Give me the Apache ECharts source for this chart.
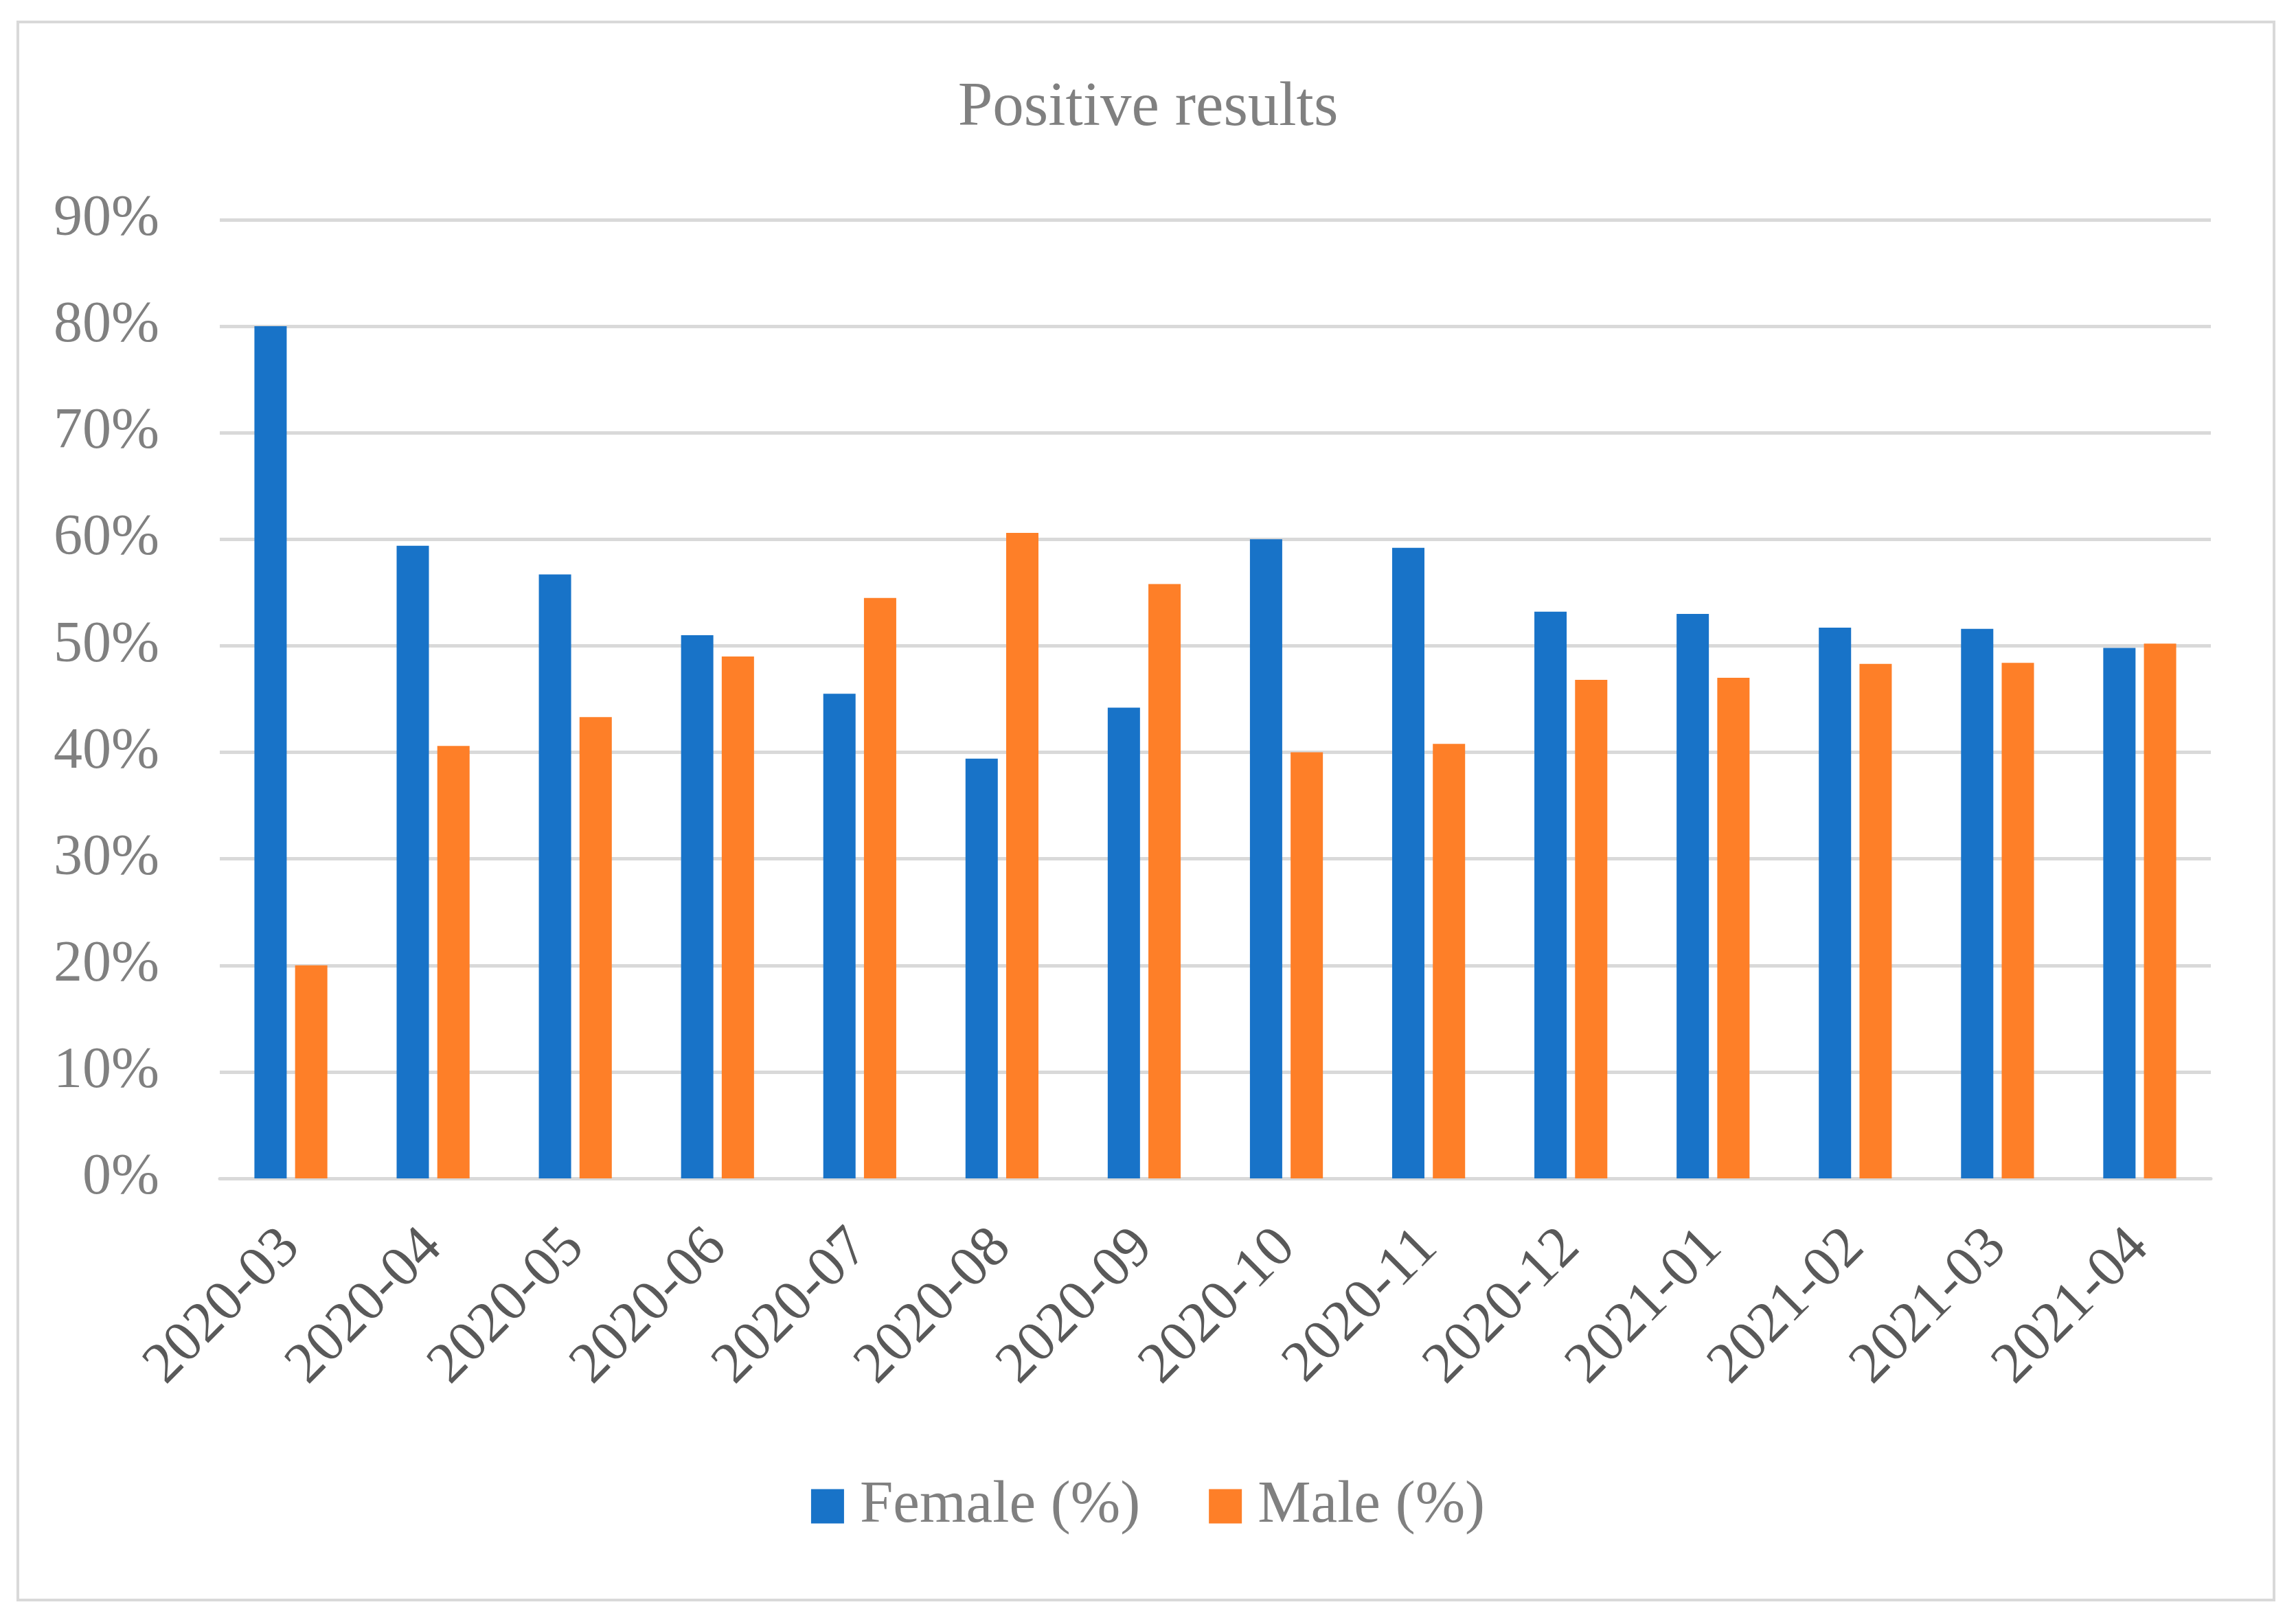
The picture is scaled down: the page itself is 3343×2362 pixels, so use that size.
<!DOCTYPE html>
<html>
<head>
<meta charset="utf-8">
<script src="https://cdn.jsdelivr.net/npm/echarts@6/dist/echarts.min.js"></script>
<style>
html,body{margin:0;padding:0;background:#fff;}
#chart{width:3343px;height:2362px;}
</style>
</head>
<body>
<div id="chart"></div>
<script>
const categories = ['2020-03','2020-04','2020-05','2020-06','2020-07','2020-08','2020-09','2020-10','2020-11','2020-12','2021-01','2021-02','2021-03','2021-04'];
const femaleValues = [80.0, 59.4, 56.7, 51.0, 45.5, 39.4, 44.2, 60.0, 59.2, 53.2, 53.0, 51.7, 51.6, 49.8];
const maleValues = [20.0, 40.6, 43.3, 49.0, 54.5, 60.6, 55.8, 40.0, 40.8, 46.8, 47.0, 48.3, 48.4, 50.2];
const yTicks = [0, 10, 20, 30, 40, 50, 60, 70, 80, 90];
const seriesNames = ['Female (%)', 'Male (%)'];
const titleText = 'Positive results';

const FONT = '"Liberation Serif", serif';
const chart = echarts.init(document.getElementById('chart'), null, {renderer: 'canvas'});
chart.setOption({
  backgroundColor: '#ffffff',
  animation: false,
  title: {
    text: titleText,
    left: 'center',
    top: 108,
    textStyle: {fontFamily: FONT, fontSize: 91, fontWeight: 'normal', color: '#808080'}
  },
  graphic: [{
    type: 'rect',
    shape: {x: 26, y: 32, width: 3285, height: 2298},
    style: {fill: 'none', stroke: '#d9d9d9', lineWidth: 4},
    silent: true
  }],
  legend: {
    data: seriesNames,
    left: 'center',
    top: 2145,
    icon: 'rect',
    itemWidth: 48,
    itemHeight: 50,
    itemGap: 100,
    textStyle: {fontFamily: FONT, fontSize: 87, color: '#808080', padding: [0, 0, 0, 18]}
  },
  grid: {left: 320, right: 124, top: 320, bottom: 646, containLabel: false},
  xAxis: {
    type: 'category',
    data: categories,
    axisLine: {show: true, lineStyle: {color: '#d9d9d9', width: 5}},
    axisTick: {show: false},
    axisLabel: {rotate: 45, margin: 88, fontFamily: FONT, fontSize: 84, color: '#595959', interval: 0}
  },
  yAxis: {
    type: 'value',
    min: yTicks[0],
    max: yTicks[yTicks.length - 1],
    interval: 10,
    axisLine: {show: false},
    axisTick: {show: false},
    splitLine: {show: true, lineStyle: {color: '#d9d9d9', width: 5}},
    axisLabel: {formatter: '{value}%', margin: 88, fontFamily: FONT, fontSize: 84, color: '#808080'}
  },
  series: [
    {name: seriesNames[0], type: 'bar', data: femaleValues, barWidth: 47, barGap: '26%', itemStyle: {color: '#1873c8'}},
    {name: seriesNames[1], type: 'bar', data: maleValues, barWidth: 47, barGap: '26%', itemStyle: {color: '#fe7f28'}}
  ]
});
</script>
</body>
</html>
